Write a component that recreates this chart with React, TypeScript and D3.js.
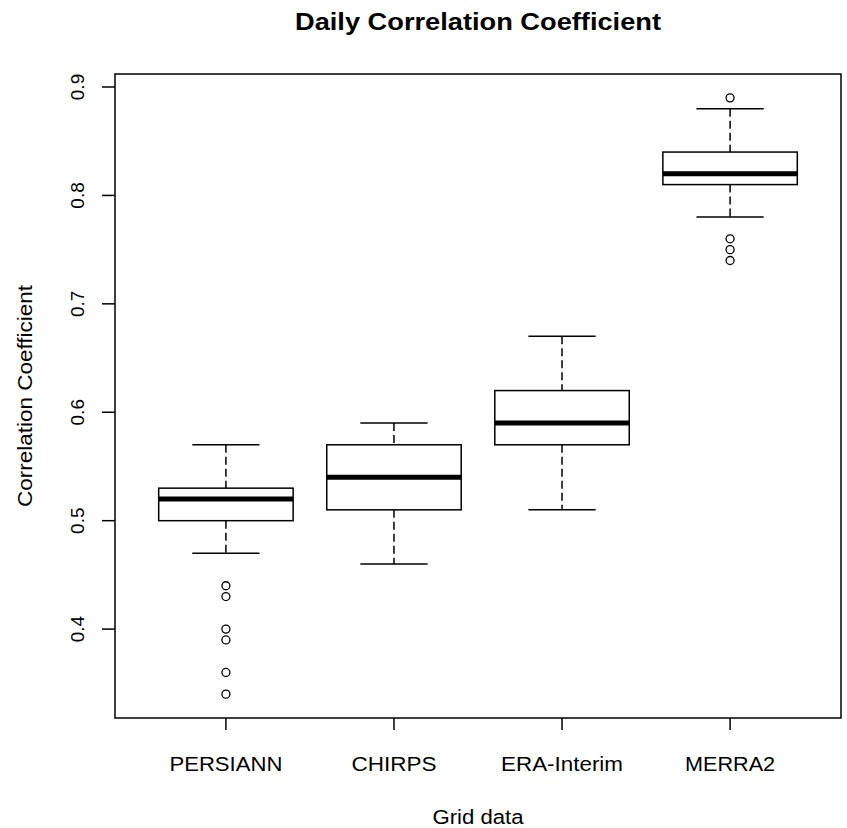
import React from 'react';
import * as d3 from 'd3';

const categories = ['PERSIANN', 'CHIRPS', 'ERA-Interim', 'MERRA2'];
const whiskerLow = [0.47, 0.46, 0.51, 0.78];
const q1 = [0.5, 0.51, 0.57, 0.81];
const median = [0.52, 0.54, 0.59, 0.82];
const q3 = [0.53, 0.57, 0.62, 0.84];
const whiskerHigh = [0.57, 0.59, 0.67, 0.88];
const outliers = [
  [0.44, 0.43, 0.4, 0.39, 0.36, 0.34],
  [],
  [],
  [0.89, 0.76, 0.75, 0.74],
];
const yTicks = [0.4, 0.5, 0.6, 0.7, 0.8, 0.9];
const title = 'Daily Correlation Coefficient';
const xTitle = 'Grid data';
const yTitle = 'Correlation Coefficient';

const W = 847;
const H = 828;
const L = 115, R = 841, T = 74, B = 718;
const labelWidths = [113, 85, 122, 90];

export default function App() {
  const x = d3.scaleLinear().domain([0.34, categories.length + 0.66]).range([L, R]);
  const y = d3.scaleLinear().domain([0.318, 0.912]).range([B, T]);
  const unit = x(2) - x(1);
  const hw = unit * 0.4;
  const sw = hw / 2;
  const font = '"Liberation Sans", Arial, sans-serif';
  const cx = (L + R) / 2;
  const cy = (T + B) / 2;
  return (
    <svg width={W} height={H} style={{ position: 'absolute', left: 0, top: 0, background: '#fff' }}>
      <rect x={0} y={0} width={W} height={H} fill="#fff" />
      <text x={cx} y={30} textAnchor="middle" fontFamily={font} fontWeight="bold" fontSize={23}
        textLength={366} lengthAdjust="spacingAndGlyphs">{title}</text>
      {categories.map((c, i) => {
        const px = x(i + 1);
        return (
          <g key={c} stroke="#000" fill="none">
            <line x1={px} x2={px} y1={y(whiskerHigh[i])} y2={y(q3[i])} strokeWidth={1.5} strokeDasharray="8,4" />
            <line x1={px} x2={px} y1={y(q1[i])} y2={y(whiskerLow[i])} strokeWidth={1.5} strokeDasharray="8,4" />
            <line x1={px - sw} x2={px + sw} y1={y(whiskerHigh[i])} y2={y(whiskerHigh[i])} strokeWidth={1.5} />
            <line x1={px - sw} x2={px + sw} y1={y(whiskerLow[i])} y2={y(whiskerLow[i])} strokeWidth={1.5} />
            <rect x={px - hw} y={y(q3[i])} width={2 * hw} height={y(q1[i]) - y(q3[i])} fill="#fff" strokeWidth={1.5} />
            <line x1={px - hw} x2={px + hw} y1={y(median[i])} y2={y(median[i])} strokeWidth={5} />
            {outliers[i].map((v, k) => (
              <circle key={k} cx={px} cy={y(v)} r={4} strokeWidth={1.3} />
            ))}
          </g>
        );
      })}
      <rect x={L} y={T} width={R - L} height={B - T} fill="none" stroke="#000" strokeWidth={1.5} />
      {yTicks.map((t) => (
        <g key={t}>
          <line x1={L} x2={L - 13} y1={y(t)} y2={y(t)} stroke="#000" strokeWidth={1.5} />
          <text transform={`translate(84,${y(t)}) rotate(-90)`} textAnchor="middle" fontFamily={font} fontSize={19} fill="#000">
            {t.toFixed(1)}
          </text>
        </g>
      ))}
      {categories.map((c, i) => (
        <g key={c}>
          <line x1={x(i + 1)} x2={x(i + 1)} y1={B} y2={B + 12} stroke="#000" strokeWidth={1.5} />
          <text x={x(i + 1)} y={771} textAnchor="middle" fontFamily={font} fontSize={20} fill="#000"
            textLength={labelWidths[i]} lengthAdjust="spacingAndGlyphs">{c}</text>
        </g>
      ))}
      <text x={cx} y={824} textAnchor="middle" fontFamily={font} fontSize={20} fill="#000"
        textLength={91} lengthAdjust="spacingAndGlyphs">{xTitle}</text>
      <text transform={`translate(32,${cy}) rotate(-90)`} textAnchor="middle" fontFamily={font} fontSize={20} fill="#000"
        textLength={222} lengthAdjust="spacingAndGlyphs">{yTitle}</text>
    </svg>
  );
}
